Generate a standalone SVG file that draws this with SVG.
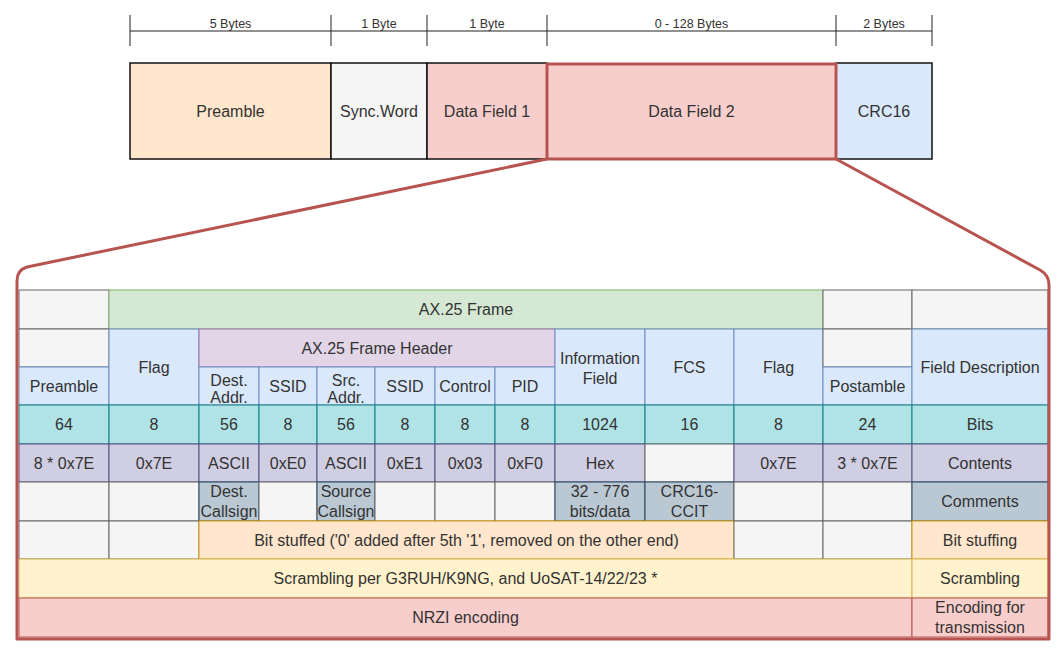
<svg xmlns="http://www.w3.org/2000/svg" width="1063" height="655" viewBox="0 0 1063 655">
<style>
text{font-family:"Liberation Sans",Arial,sans-serif;fill:#333;text-anchor:middle}
.t{font-size:16px}
.r{font-size:12.5px}
.ruler{stroke:#222;stroke-width:1;fill:none}
.box{stroke:#111;stroke-width:1.5}
.gray{fill:#f5f5f5;stroke:#666;stroke-width:1}
.green{fill:#d5e8d4;stroke:#82b366;stroke-width:1}
.blue{fill:#dae8fc;stroke:#6c8ebf;stroke-width:1}
.purple{fill:#e1d5e7;stroke:#9673a6;stroke-width:1}
.teal{fill:#b0e3e6;stroke:#0e8088;stroke-width:1}
.lav{fill:#d0cee2;stroke:#56517e;stroke-width:1}
.slate{fill:#bac8d3;stroke:#23445d;stroke-width:1}
.orange{fill:#ffe6cc;stroke:#d79b00;stroke-width:1}
.yellow{fill:#fff2cc;stroke:#d6b656;stroke-width:1}
.red{fill:#f8cecc;stroke:#b85450;stroke-width:1}
</style>

<g id="ruler">
<path class="ruler" d="M130,31H932M130,15V46M331,15V46M427,15V46M547,15V46M836,15V46M932,15V46"/>
<text class="r" x="230.5" y="27.5">5 Bytes</text>
<text class="r" x="379" y="27.5">1 Byte</text>
<text class="r" x="487" y="27.5">1 Byte</text>
<text class="r" x="691.5" y="27.5">0 - 128 Bytes</text>
<text class="r" x="884" y="27.5">2 Bytes</text>
</g>

<g id="top-preamble"><rect class="box" x="130" y="63" width="201" height="96" fill="#ffe6cc"/><text class="t" x="230.5" y="116.5">Preamble</text></g>
<g id="top-sync"><rect class="box" x="331" y="63" width="96" height="96" fill="#f5f5f5"/><text class="t" x="379" y="116.5">Sync.Word</text></g>
<g id="top-df1"><rect class="box" x="427" y="63" width="120" height="96" fill="#f8cecc"/><text class="t" x="487" y="116.5">Data Field 1</text></g>
<g id="top-crc"><rect class="box" x="836" y="63" width="96" height="96" fill="#dae8fc"/><text class="t" x="884" y="116.5">CRC16</text></g>
<g id="top-df2"><rect x="547" y="64" width="289" height="95" fill="#f8cecc" stroke="#b85450" stroke-width="3"/><text class="t" x="691.5" y="116.5">Data Field 2</text></g>

<g id="row-frame">
<g id="r0c0"><rect class="gray" x="19" y="290" width="90" height="39"/></g>
<g id="ax25-frame"><rect class="green" x="109" y="290" width="714" height="39"/><text class="t" x="466" y="315">AX.25 Frame</text></g>
<g id="r0c11"><rect class="gray" x="823" y="290" width="89" height="39"/></g>
<g id="r0c12"><rect class="gray" x="912" y="290" width="136" height="39"/></g>
</g>

<g id="row-fields">
<g id="r1c0"><rect class="gray" x="19" y="329" width="90" height="38"/></g>
<g id="preamble"><rect class="blue" x="19" y="367" width="90" height="38"/><text class="t" x="64" y="392">Preamble</text></g>
<g id="flag1"><rect class="blue" x="109" y="329" width="90" height="76"/><text class="t" x="154" y="372.5">Flag</text></g>
<g id="header"><rect class="purple" x="199" y="329" width="356" height="38"/><text class="t" x="377" y="354">AX.25 Frame Header</text></g>
<g id="dest-addr"><rect class="blue" x="199" y="367" width="60" height="38"/><text class="t" x="229" y="385.5">Dest.</text><text class="t" x="229" y="402.5">Addr.</text></g>
<g id="ssid1"><rect class="blue" x="259" y="367" width="58" height="38"/><text class="t" x="288" y="392">SSID</text></g>
<g id="src-addr"><rect class="blue" x="317" y="367" width="58" height="38"/><text class="t" x="346" y="385.5">Src.</text><text class="t" x="346" y="402.5">Addr.</text></g>
<g id="ssid2"><rect class="blue" x="375" y="367" width="60" height="38"/><text class="t" x="405" y="392">SSID</text></g>
<g id="control"><rect class="blue" x="435" y="367" width="60" height="38"/><text class="t" x="465" y="392">Control</text></g>
<g id="pid"><rect class="blue" x="495" y="367" width="60" height="38"/><text class="t" x="525" y="392">PID</text></g>
<g id="info"><rect class="blue" x="555" y="329" width="90" height="76"/><text class="t" x="600" y="363.5">Information</text><text class="t" x="600" y="383.5">Field</text></g>
<g id="fcs"><rect class="blue" x="645" y="329" width="89" height="76"/><text class="t" x="689.5" y="372.5">FCS</text></g>
<g id="flag2"><rect class="blue" x="734" y="329" width="89" height="76"/><text class="t" x="778.5" y="372.5">Flag</text></g>
<g id="r1c11"><rect class="gray" x="823" y="329" width="89" height="38"/></g>
<g id="postamble"><rect class="blue" x="823" y="367" width="89" height="38"/><text class="t" x="867.5" y="392">Postamble</text></g>
<g id="field-desc"><rect class="blue" x="912" y="329" width="136" height="76"/><text class="t" x="980" y="372.5">Field Description</text></g>
</g>

<g id="row-bits">
<g id="b0"><rect class="teal" x="19" y="405" width="90" height="39"/><text class="t" x="64" y="430">64</text></g>
<g id="b1"><rect class="teal" x="109" y="405" width="90" height="39"/><text class="t" x="154" y="430">8</text></g>
<g id="b2"><rect class="teal" x="199" y="405" width="60" height="39"/><text class="t" x="229" y="430">56</text></g>
<g id="b3"><rect class="teal" x="259" y="405" width="58" height="39"/><text class="t" x="288" y="430">8</text></g>
<g id="b4"><rect class="teal" x="317" y="405" width="58" height="39"/><text class="t" x="346" y="430">56</text></g>
<g id="b5"><rect class="teal" x="375" y="405" width="60" height="39"/><text class="t" x="405" y="430">8</text></g>
<g id="b6"><rect class="teal" x="435" y="405" width="60" height="39"/><text class="t" x="465" y="430">8</text></g>
<g id="b7"><rect class="teal" x="495" y="405" width="60" height="39"/><text class="t" x="525" y="430">8</text></g>
<g id="b8"><rect class="teal" x="555" y="405" width="90" height="39"/><text class="t" x="600" y="430">1024</text></g>
<g id="b9"><rect class="teal" x="645" y="405" width="89" height="39"/><text class="t" x="689.5" y="430">16</text></g>
<g id="b10"><rect class="teal" x="734" y="405" width="89" height="39"/><text class="t" x="778.5" y="430">8</text></g>
<g id="b11"><rect class="teal" x="823" y="405" width="89" height="39"/><text class="t" x="867.5" y="430">24</text></g>
<g id="b12"><rect class="teal" x="912" y="405" width="136" height="39"/><text class="t" x="980" y="430">Bits</text></g>
</g>

<g id="row-contents">
<g id="k0"><rect class="lav" x="19" y="444" width="90" height="38"/><text class="t" x="64" y="469">8 * 0x7E</text></g>
<g id="k1"><rect class="lav" x="109" y="444" width="90" height="38"/><text class="t" x="154" y="469">0x7E</text></g>
<g id="k2"><rect class="lav" x="199" y="444" width="60" height="38"/><text class="t" x="229" y="469">ASCII</text></g>
<g id="k3"><rect class="lav" x="259" y="444" width="58" height="38"/><text class="t" x="288" y="469">0xE0</text></g>
<g id="k4"><rect class="lav" x="317" y="444" width="58" height="38"/><text class="t" x="346" y="469">ASCII</text></g>
<g id="k5"><rect class="lav" x="375" y="444" width="60" height="38"/><text class="t" x="405" y="469">0xE1</text></g>
<g id="k6"><rect class="lav" x="435" y="444" width="60" height="38"/><text class="t" x="465" y="469">0x03</text></g>
<g id="k7"><rect class="lav" x="495" y="444" width="60" height="38"/><text class="t" x="525" y="469">0xF0</text></g>
<g id="k8"><rect class="lav" x="555" y="444" width="90" height="38"/><text class="t" x="600" y="469">Hex</text></g>
<g id="k9"><rect class="gray" x="645" y="444" width="89" height="38"/></g>
<g id="k10"><rect class="lav" x="734" y="444" width="89" height="38"/><text class="t" x="778.5" y="469">0x7E</text></g>
<g id="k11"><rect class="lav" x="823" y="444" width="89" height="38"/><text class="t" x="867.5" y="469">3 * 0x7E</text></g>
<g id="k12"><rect class="lav" x="912" y="444" width="136" height="38"/><text class="t" x="980" y="469">Contents</text></g>
</g>

<g id="row-comments">
<g id="m0"><rect class="gray" x="19" y="482" width="90" height="39"/></g>
<g id="m1"><rect class="gray" x="109" y="482" width="90" height="39"/></g>
<g id="m2"><rect class="slate" x="199" y="482" width="60" height="39"/><text class="t" x="229" y="497">Dest.</text><text class="t" x="229" y="517">Callsign</text></g>
<g id="m3"><rect class="gray" x="259" y="482" width="58" height="39"/></g>
<g id="m4"><rect class="slate" x="317" y="482" width="58" height="39"/><text class="t" x="346" y="497">Source</text><text class="t" x="346" y="517">Callsign</text></g>
<g id="m5"><rect class="gray" x="375" y="482" width="60" height="39"/></g>
<g id="m6"><rect class="gray" x="435" y="482" width="60" height="39"/></g>
<g id="m7"><rect class="gray" x="495" y="482" width="60" height="39"/></g>
<g id="m8"><rect class="slate" x="555" y="482" width="90" height="39"/><text class="t" x="600" y="497">32 - 776</text><text class="t" x="600" y="517">bits/data</text></g>
<g id="m9"><rect class="slate" x="645" y="482" width="89" height="39"/><text class="t" x="689.5" y="497">CRC16-</text><text class="t" x="689.5" y="517">CCIT</text></g>
<g id="m10"><rect class="gray" x="734" y="482" width="89" height="39"/></g>
<g id="m11"><rect class="gray" x="823" y="482" width="89" height="39"/></g>
<g id="m12"><rect class="slate" x="912" y="482" width="136" height="39"/><text class="t" x="980" y="507">Comments</text></g>
</g>

<g id="row-bitstuff">
<g id="s0"><rect class="gray" x="19" y="521" width="90" height="38"/></g>
<g id="s1"><rect class="gray" x="109" y="521" width="90" height="38"/></g>
<g id="s-main"><rect class="orange" x="199" y="521" width="535" height="38"/><text class="t" x="466.5" y="546">Bit stuffed ('0' added after 5th '1', removed on the other end)</text></g>
<g id="s10"><rect class="gray" x="734" y="521" width="89" height="38"/></g>
<g id="s11"><rect class="gray" x="823" y="521" width="89" height="38"/></g>
<g id="s12"><rect class="orange" x="912" y="521" width="136" height="38"/><text class="t" x="980" y="546">Bit stuffing</text></g>
</g>

<g id="row-scrambling">
<g id="sc-main"><rect class="yellow" x="19" y="559" width="893" height="39"/><text class="t" x="465.5" y="584">Scrambling per G3RUH/K9NG, and UoSAT-14/22/23 *</text></g>
<g id="sc-desc"><rect class="yellow" x="912" y="559" width="136" height="39"/><text class="t" x="980" y="584">Scrambling</text></g>
</g>

<g id="row-nrzi">
<g id="n-main"><rect class="red" x="19" y="598" width="893" height="39"/><text class="t" x="465.5" y="623">NRZI encoding</text></g>
<g id="n-desc"><rect class="red" x="912" y="598" width="136" height="39"/><text class="t" x="980" y="612.5">Encoding for</text><text class="t" x="980" y="632.5">transmission</text></g>
</g>

<g id="connectors">
<path d="M547,159 L27,267 Q17,270 17,281 L17,639 L1049,639 L1049,285 Q1049,275 1040,270 L836,159" fill="none" stroke="#b85450" stroke-width="3" stroke-linejoin="round"/>
</g>
</svg>
